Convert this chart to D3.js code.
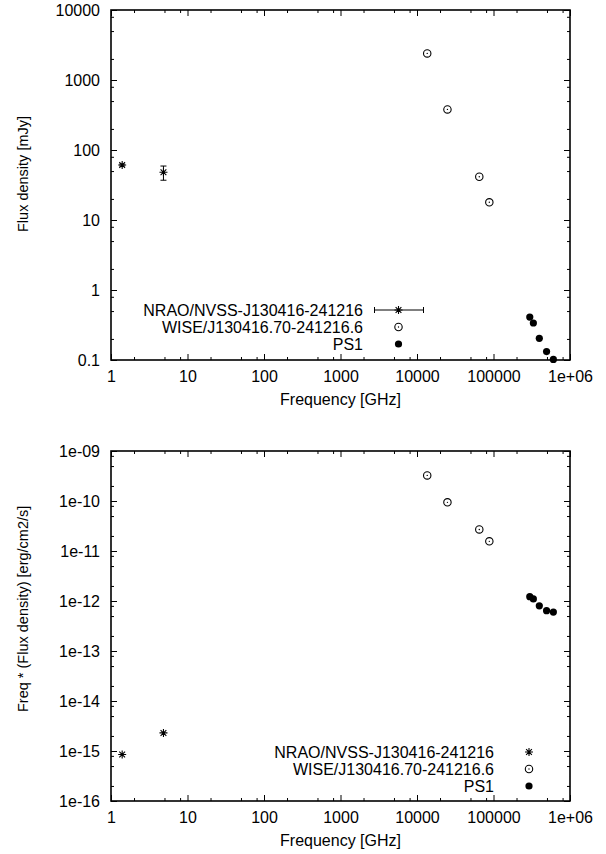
<!DOCTYPE html>
<html>
<head>
<meta charset="utf-8">
<script src="https://cdn.jsdelivr.net/npm/d3@7"></script>
<style>
  body { margin: 0; background: #fff; }
  svg { display: block; }
</style>
</head>
<body>
<div id="app"></div>
<script>
// series names (legend)
const seriesNames = ['NRAO/NVSS-J130416-241216', 'WISE/J130416.70-241216.6', 'PS1'];

// NVSS radio points: frequency [GHz], flux [mJy], error [mJy], nu*F [erg/cm2/s]
const nvssFreq = [1.4, 4.85];
const nvssFlux = [61, 48];
const nvssErr = [2, 11];
const nvssNuF = [8.5e-16, 2.3e-15];

// WISE points
const wiseFreq = [13600, 25000, 65200, 88200];
const wiseFlux = [2400, 380, 41.5, 17.9];
const wiseNuF = [3.25e-10, 9.4e-11, 2.7e-11, 1.56e-11];

// PS1 points
const ps1Freq = [298000, 332000, 397000, 494000, 606000];
const ps1Flux = [0.41, 0.338, 0.204, 0.132, 0.102];
const ps1NuF = [1.22e-12, 1.1e-12, 8.0e-13, 6.4e-13, 6.0e-13];

// tick labels
const xTicks = [1, 10, 100, 1000, 10000, 100000, 1e6];
const xTickLabels = ['1', '10', '100', '1000', '10000', '100000', '1e+06'];
const yTopTicks = [0.1, 1, 10, 100, 1000, 10000];
const yTopLabels = ['0.1', '1', '10', '100', '1000', '10000'];
const yBotTicks = [1e-16, 1e-15, 1e-14, 1e-13, 1e-12, 1e-11, 1e-10, 1e-9];
const yBotLabels = ['1e-16', '1e-15', '1e-14', '1e-13', '1e-12', '1e-11', '1e-10', '1e-09'];

(() => {
  const W = 606;
  const H = 854;
  const font = '"Liberation Sans", Arial, Helvetica, sans-serif';
  const fs = 16;
  const majorLen = 6;
  const minorLen = 3;

  const svg = d3.select('#app')
    .append('svg')
    .attr('width', W)
    .attr('height', H)
    .attr('font-family', font);

  // minor ticks at 2, 5, 8 within each decade (gnuplot style)
  const minorTicks = (ticks) => {
    const out = [];
    ticks.slice(0, -1).forEach((t) => {
      [2, 5, 8].forEach(m => out.push(t * m));
    });
    return out;
  };

  // marker shapes
  const starPath = (r) => {
    const d = r * 0.72;
    return `M${-r},0L${r},0M0,${-r}L0,${r}M${-d},${-d}L${d},${d}M${-d},${d}L${d},${-d}`;
  };

  const drawStar = (g, cx, cy) => {
    g.append('path')
      .attr('d', starPath(4))
      .attr('transform', `translate(${cx},${cy})`)
      .attr('stroke', '#000')
      .attr('stroke-width', 1.1)
      .attr('fill', 'none');
  };
  const drawOpen = (g, cx, cy) => {
    g.append('circle')
      .attr('cx', cx).attr('cy', cy).attr('r', 3.7)
      .attr('fill', 'none').attr('stroke', '#000').attr('stroke-width', 1.1);
    g.append('circle')
      .attr('cx', cx).attr('cy', cy).attr('r', 0.7)
      .attr('fill', '#000');
  };
  const drawFilled = (g, cx, cy) => {
    g.append('circle')
      .attr('cx', cx).attr('cy', cy).attr('r', 3.6)
      .attr('fill', '#000');
  };

  const drawPanel = (cfg) => {
    const x = d3.scaleLog().domain([1, 1e6]).range([cfg.left, cfg.right]);
    const y = d3.scaleLog().domain(cfg.yDomain).range([cfg.bottom, cfg.top]);
    const g = svg.append('g');

    // major + minor ticks, all four sides, pointing inward
    const addAxis = (axisFn, scale, values, len, labels, pos) => {
      const ax = axisFn(scale)
        .tickValues(values)
        .tickSizeInner(-len)
        .tickSizeOuter(0)
        .tickPadding(11)
        .tickFormat(labels ? ((d, i) => labels[i]) : '');
      const a = g.append('g')
        .attr('transform', pos)
        .call(ax);
      a.select('.domain').remove();
      a.selectAll('line').attr('stroke', '#000').attr('stroke-width', 1);
      a.selectAll('text')
        .attr('fill', '#000')
        .attr('font-size', fs)
        .attr('font-family', font);
    };

    const xMinor = minorTicks(xTicks);
    const yMinor = minorTicks(cfg.yTicks);
    addAxis(d3.axisBottom, x, xTicks, majorLen, xTickLabels, `translate(0,${cfg.bottom})`);
    addAxis(d3.axisBottom, x, xMinor, minorLen, null, `translate(0,${cfg.bottom})`);
    addAxis(d3.axisTop, x, xTicks, majorLen, null, `translate(0,${cfg.top})`);
    addAxis(d3.axisTop, x, xMinor, minorLen, null, `translate(0,${cfg.top})`);
    addAxis(d3.axisLeft, y, cfg.yTicks, majorLen, cfg.yLabels, `translate(${cfg.left},0)`);
    addAxis(d3.axisLeft, y, yMinor, minorLen, null, `translate(${cfg.left},0)`);
    addAxis(d3.axisRight, y, cfg.yTicks, majorLen, null, `translate(${cfg.right},0)`);
    addAxis(d3.axisRight, y, yMinor, minorLen, null, `translate(${cfg.right},0)`);

    // frame
    g.append('rect')
      .attr('x', cfg.left)
      .attr('y', cfg.top)
      .attr('width', cfg.right - cfg.left)
      .attr('height', cfg.bottom - cfg.top)
      .attr('fill', 'none')
      .attr('stroke', '#000')
      .attr('stroke-width', 1.6);

    // axis titles
    g.append('text')
      .text('Frequency [GHz]')
      .attr('x', (cfg.left + cfg.right) / 2)
      .attr('y', cfg.bottom + 45)
      .attr('text-anchor', 'middle')
      .attr('font-size', fs);

    g.append('text')
      .text(cfg.yTitle)
      .attr('transform', `translate(28,${cfg.yTitleStart}) rotate(-90)`)
      .attr('text-anchor', 'start')
      .attr('font-size', 14.5);

    // NVSS
    nvssFreq.forEach((f, i) => {
      const cx = x(f);
      const v = cfg.useNuF ? nvssNuF[i] : nvssFlux[i];
      const cy = y(v);
      if (!cfg.useNuF) {
        const y1 = y(v + nvssErr[i]);
        const y2 = y(v - nvssErr[i]);
        g.append('path')
          .attr('d', `M${cx},${y1}L${cx},${y2}M${cx - 3},${y1}L${cx + 3},${y1}M${cx - 3},${y2}L${cx + 3},${y2}`)
          .attr('stroke', '#000')
          .attr('stroke-width', 1)
          .attr('fill', 'none');
      }
      drawStar(g, cx, cy);
    });

    // WISE
    wiseFreq.forEach((f, i) => {
      drawOpen(g, x(f), y(cfg.useNuF ? wiseNuF[i] : wiseFlux[i]));
    });

    // PS1
    ps1Freq.forEach((f, i) => {
      drawFilled(g, x(f), y(cfg.useNuF ? ps1NuF[i] : ps1Flux[i]));
    });

    // legend
    const lg = cfg.legend;
    seriesNames.forEach((name, i) => {
      const ry = lg.rows[i];
      g.append('text')
        .text(name)
        .attr('x', lg.textRight)
        .attr('y', ry)
        .attr('dy', '0.36em')
        .attr('text-anchor', 'end')
        .attr('font-size', fs);
      const sx = lg.sample;
      if (i === 0) {
        if (!cfg.useNuF) {
          g.append('path')
            .attr('d', `M${sx - 24},${ry}L${sx + 25},${ry}M${sx - 24},${ry - 3}L${sx - 24},${ry + 3}M${sx + 25},${ry - 3}L${sx + 25},${ry + 3}`)
            .attr('stroke', '#000')
            .attr('stroke-width', 1)
            .attr('fill', 'none');
        }
        drawStar(g, sx, ry);
      } else if (i === 1) {
        drawOpen(g, sx, ry);
      } else {
        drawFilled(g, sx, ry);
      }
    });
  };

  drawPanel({
    left: 111, right: 570, top: 10, bottom: 360,
    yDomain: [0.1, 10000],
    yTicks: yTopTicks,
    yLabels: yTopLabels,
    yTitle: 'Flux density [mJy]',
    yTitleStart: 232,
    useNuF: false,
    legend: { textRight: 363, sample: 398.5, rows: [310, 327, 344] },
  });

  drawPanel({
    left: 111, right: 570, top: 451, bottom: 801,
    yDomain: [1e-16, 1e-9],
    yTicks: yBotTicks,
    yLabels: yBotLabels,
    yTitle: 'Freq * (Flux density) [erg/cm2/s]',
    yTitleStart: 712,
    useNuF: true,
    legend: { textRight: 494, sample: 529, rows: [752, 769, 786] },
  });
})();
</script>
</body>
</html>
